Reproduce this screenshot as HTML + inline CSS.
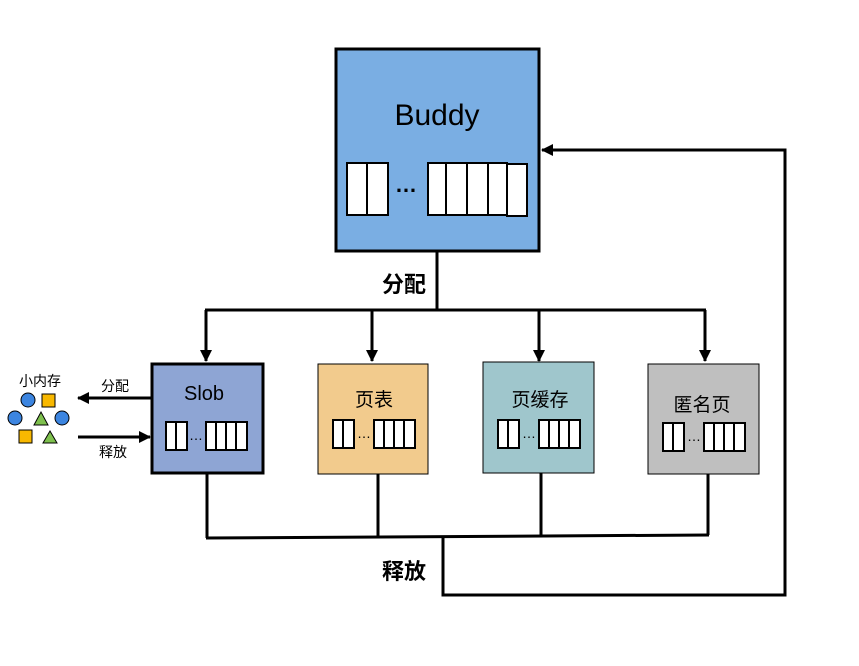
<!DOCTYPE html>
<html><head><meta charset="utf-8"><style>
body{margin:0;background:#fff;}
svg text{font-family:"Liberation Sans","Noto Sans CJK SC",sans-serif;}
</style></head><body>
<svg width="859" height="661" viewBox="0 0 859 661">
<defs>
<marker id="ah2" markerWidth="12" markerHeight="12" refX="11" refY="6" orient="auto" markerUnits="userSpaceOnUse"><path d="M0,0 L12,6 L0,12 z" fill="#000"/></marker></defs>
<g>
<rect x="336" y="49" width="203" height="202" fill="#7aaee3" stroke="#000" stroke-width="3"/>
<text x="437" y="125" font-size="30" text-anchor="middle" fill="#000">Buddy</text>
<g fill="#fff" stroke="#000" stroke-width="2">
<rect x="347" y="163" width="20" height="52"/><rect x="367" y="163" width="21" height="52"/>
<rect x="428" y="163" width="18" height="52"/><rect x="446" y="163" width="21" height="52"/><rect x="467" y="163" width="21" height="52"/><rect x="488" y="163" width="19" height="52"/><rect x="507" y="164" width="20" height="52"/>
</g>
<text x="406" y="192" font-size="22" font-weight="bold" text-anchor="middle">…</text>
</g>
<g stroke="#000" stroke-width="3" fill="none">
<line x1="437" y1="252" x2="437" y2="310"/>
<line x1="205" y1="310" x2="706" y2="310"/>
<line x1="206" y1="310" x2="206" y2="361" marker-end="url(#ah2)"/>
<line x1="372" y1="310" x2="372" y2="361" marker-end="url(#ah2)"/>
<line x1="539" y1="310" x2="539" y2="361" marker-end="url(#ah2)"/>
<line x1="705" y1="310" x2="705" y2="361" marker-end="url(#ah2)"/>
</g>
<text x="404" y="292" font-size="22" font-weight="bold" text-anchor="middle">分配</text>
<g>
<rect x="152" y="364" width="111" height="109" fill="#8ea5d4" stroke="#000" stroke-width="3"/>
<text x="204" y="400" font-size="20" text-anchor="middle">Slob</text>
</g>
<g>
<rect x="318" y="364" width="110" height="110" fill="#f2cb8d" stroke="#000" stroke-width="1"/>
<text x="374" y="406" font-size="19" text-anchor="middle">页表</text>
</g>
<g>
<rect x="483" y="362" width="111" height="111" fill="#9fc6cc" stroke="#000" stroke-width="1"/>
<text x="540" y="406" font-size="19" text-anchor="middle">页缓存</text>
</g>
<g>
<rect x="648" y="364" width="111" height="110" fill="#bfbfbf" stroke="#000" stroke-width="1"/>
<text x="702" y="411" font-size="19" text-anchor="middle">匿名页</text>
</g>
<g fill="#fff" stroke="#000" stroke-width="2">
<rect x="166" y="422" width="10" height="28"/><rect x="176" y="422" width="11" height="28"/><rect x="206" y="422" width="10" height="28"/><rect x="216" y="422" width="10" height="28"/><rect x="226" y="422" width="10" height="28"/><rect x="236" y="422" width="11" height="28"/>
<rect x="333" y="420" width="10" height="28"/><rect x="343" y="420" width="11" height="28"/><rect x="374" y="420" width="10" height="28"/><rect x="384" y="420" width="10" height="28"/><rect x="394" y="420" width="10" height="28"/><rect x="404" y="420" width="11" height="28"/>
<rect x="498" y="420" width="10" height="28"/><rect x="508" y="420" width="11" height="28"/><rect x="539" y="420" width="10" height="28"/><rect x="549" y="420" width="10" height="28"/><rect x="559" y="420" width="10" height="28"/><rect x="569" y="420" width="11" height="28"/>
<rect x="663" y="423" width="10" height="28"/><rect x="673" y="423" width="11" height="28"/><rect x="704" y="423" width="10" height="28"/><rect x="714" y="423" width="10" height="28"/><rect x="724" y="423" width="10" height="28"/><rect x="734" y="423" width="11" height="28"/>
</g>
<g font-size="14" text-anchor="middle">
<text x="196" y="440">…</text><text x="364" y="438">…</text><text x="529" y="438">…</text><text x="694" y="441">…</text>
</g>
<g stroke="#000" stroke-width="3" fill="none">
<line x1="207" y1="474" x2="207" y2="538"/>
<line x1="378" y1="474" x2="378" y2="537"/>
<line x1="541" y1="473" x2="541" y2="536"/>
<line x1="708" y1="474" x2="708" y2="535"/>
<line x1="206" y1="538" x2="709" y2="535"/>
<polyline points="443,536 443,595 785,595 785,150 542,150" marker-end="url(#ah2)"/>
</g>
<text x="404" y="579" font-size="22" font-weight="bold" text-anchor="middle">释放</text>
<g>
<text x="40" y="386" font-size="14" text-anchor="middle">小内存</text>
<circle cx="28" cy="400" r="7" fill="#3c85e0" stroke="#000"/>
<rect x="42" y="394" width="13" height="13" fill="#f8b800" stroke="#000"/>
<circle cx="15" cy="418" r="7" fill="#3c85e0" stroke="#000"/>
<path d="M34,425 L41,412 L48,425 z" fill="#7ec04e" stroke="#000"/>
<circle cx="62" cy="418" r="7" fill="#3c85e0" stroke="#000"/>
<rect x="19" y="430" width="13" height="13" fill="#f8b800" stroke="#000"/>
<path d="M43,443 L50,431 L57,443 z" fill="#7ec04e" stroke="#000"/>
</g>
<g stroke="#000" stroke-width="3">
<line x1="152" y1="398" x2="78" y2="398" marker-end="url(#ah2)"/>
<line x1="78" y1="437" x2="150" y2="437" marker-end="url(#ah2)"/>
</g>
<text x="115" y="391" font-size="14" text-anchor="middle">分配</text>
<text x="113" y="457" font-size="14" text-anchor="middle">释放</text>
</svg>
</body></html>
